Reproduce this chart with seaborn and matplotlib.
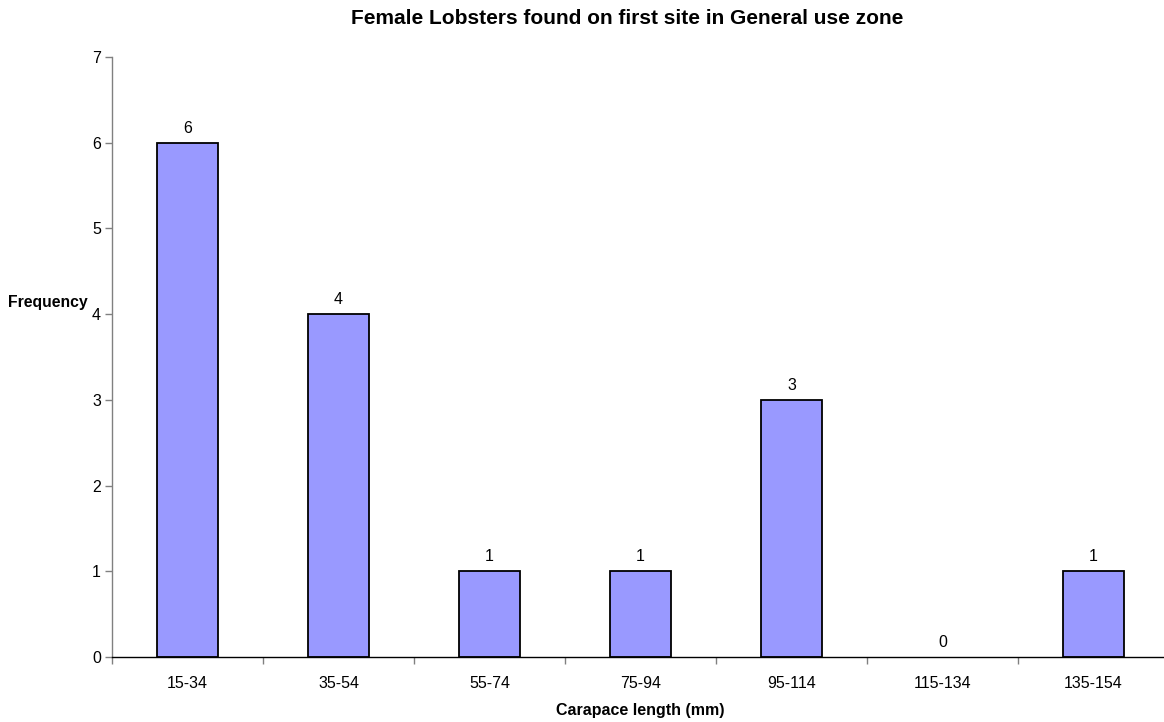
import matplotlib
matplotlib.use("Agg")
import matplotlib.pyplot as plt
import seaborn as sns
import pandas as pd
import numpy as np

categories = ["15-34", "35-54", "55-74", "75-94", "95-114", "115-134", "135-154"]
frequency = [6, 4, 1, 1, 3, 0, 1]

sns.set_style("white")
plt.rcParams['font.family'] = ['Liberation Sans', 'DejaVu Sans']

df = pd.DataFrame({"Carapace": categories, "Frequency": frequency})

fig = plt.figure(figsize=(11.64, 7.22), dpi=100)
W, H = 1164, 722
ax = fig.add_axes([112 / W, (H - 657) / H, 1057 / W, 600 / H])

sns.barplot(data=df, x="Carapace", y="Frequency", order=categories,
            color="#9999FF", edgecolor="black", linewidth=1.3, width=0.4,
            saturation=1, ax=ax)

for patch, v in zip(ax.patches, frequency):
    if v == 0:
        patch.set_linewidth(0)

ax.set_xlim(-0.5, len(categories) - 0.5)
ax.set_ylim(0, 7)
ax.set_yticks(range(0, 8))
ax.tick_params(axis="y", which="major", length=5, width=1, color="#808080",
               labelsize=11.5, pad=3, left=True, labelcolor="black")
ax.set_xticks(range(len(categories)))
ax.set_xticklabels(categories)
ax.set_xticks(np.arange(-0.5, len(categories), 1), minor=True)
ax.tick_params(axis="x", which="major", length=0, labelsize=11.5, pad=14,
               labelcolor="black")
ax.tick_params(axis="x", which="minor", length=5, width=1, color="#808080", bottom=True)

for side in ["top", "right"]:
    ax.spines[side].set_visible(False)
ax.spines["left"].set_color("#808080")
ax.spines["left"].set_linewidth(1)
ax.spines["bottom"].set_color("black")
ax.spines["bottom"].set_linewidth(1)

for i, v in enumerate(frequency):
    ax.annotate(str(v), xy=(i, v), xytext=(0, 5), textcoords="offset points",
                ha="center", va="bottom", fontsize=11.5, color="black")

ax.set_xlabel("")
ax.set_ylabel("")
fig.text(640 / W, 1 - 710 / H, "Carapace length (mm)", ha="center", va="center",
         fontsize=11.5, fontweight="bold", color="black")
fig.text(48 / W, 1 - 303 / H, "Frequency", ha="center", va="center",
         fontsize=11.3, fontweight="bold", color="black")
fig.text(627 / W, 1 - 19 / H, "Female Lobsters found on first site in General use zone",
         ha="center", va="center", fontsize=15, fontweight="bold", color="black")

fig.savefig("out.png", dpi=100)
